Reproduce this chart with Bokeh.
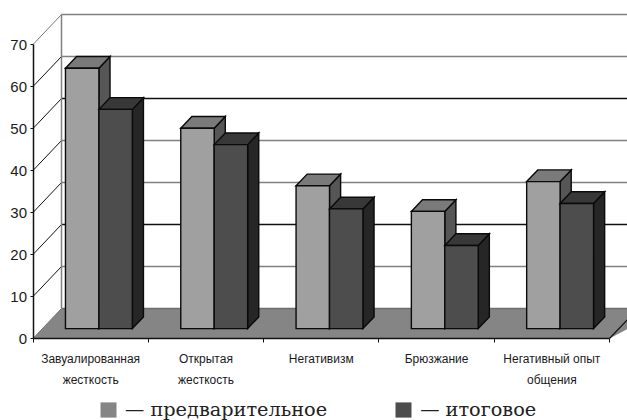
from bokeh.embed import file_html
from bokeh.models import FixedTicker, Legend, LegendItem, LinearAxis, Range1d
from bokeh.plotting import figure
from bokeh.resources import INLINE

categories = ["Завуалированная\nжесткость", "Открытая\nжесткость", "Негативизм",
              "Брюзжание", "Негативный опыт\nобщения"]
preliminary = [62.0, 47.7, 34.0, 27.9, 35.0]
final = [52.2, 43.8, 28.5, 19.8, 29.8]
value_ticks = [0, 10, 20, 30, 40, 50, 60, 70]
series_names = ["— предварительное", "— итоговое"]

# Scale of the front plane, in pixels per data unit
PX_X = 115.3
PX_Y = 4.2
ORIGIN_X = 32.5
ORIGIN_Y = 338.0
WIDTH, HEIGHT = 627, 420

# Oblique projection of the box depth
WALL_DX = 28.5 / PX_X
WALL_DY = 30.0 / PX_Y
BAR_FRONT = 0.33
BAR_BACK = 0.72
BAR_WIDTH = 0.29
BAR_START = 0.20


def pt(x, y, depth=0.0):
    return x + depth * WALL_DX, y + depth * WALL_DY


def poly(*corners):
    pts = [pt(*c) for c in corners]
    return [q[0] for q in pts], [q[1] for q in pts]


x_range = Range1d(-ORIGIN_X / PX_X, (WIDTH - ORIGIN_X) / PX_X)
y_range = Range1d(-(HEIGHT - ORIGIN_Y) / PX_Y, ORIGIN_Y / PX_Y)
p = figure(width=WIDTH, height=HEIGHT, x_range=x_range, y_range=y_range,
           output_backend="svg", toolbar_location=None,
           min_border=0, min_border_left=0, min_border_right=0,
           min_border_top=0, min_border_bottom=0, x_axis_location=None,
           y_axis_location=None, outline_line_color=None)
p.grid.visible = False

n = len(categories)
right = x_range.end + 1

# Floor
fx, fy = poly((0, 0), (n, 0), (n + WALL_DX, 0, 1), (right, 0, 1), (0, 0, 1))
floor = p.patch(fx, fy, fill_color="#858585", line_color=None)

# Back wall lines and side wall diagonals; line darkness alternates
line_colors = {0: "#6e6e6e", 10: "#808080", 20: "#111111", 30: "#808080",
               40: "#808080", 50: "#111111", 60: "#808080", 70: "#808080"}
for v in value_ticks:
    bx, by = pt(0, v, 1)
    p.line([bx, right], [by, by], line_color=line_colors[v], line_width=1.5)
    dx, dy = poly((0, v), (0, v, 1))
    p.line(dx, dy, line_color="#777777" if v in (0, 70) else "#111111", line_width=1)
wx, wy = poly((0, 0, 1), (0, 70, 1))
p.line(wx, wy, line_color="#808080", line_width=1.5)

# Right edge of the floor
ex, ey = poly((n, 0), (n, 0, 1))
p.line(ex, ey, line_color="#111111", line_width=1.2)

# Bars: front, top and side faces of each box
styles = [("#a0a0a0", "#7a7a7a", "#565656"), ("#4d4d4d", "#383838", "#262626")]
swatch_dark = None
for s, values in enumerate([preliminary, final]):
    front, top, side = styles[s]
    for i, v in enumerate(values):
        x0 = i + BAR_START + s * BAR_WIDTH
        x1 = x0 + BAR_WIDTH
        front_xs, front_ys = poly((x0, 0, BAR_FRONT), (x1, 0, BAR_FRONT),
                                  (x1, v, BAR_FRONT), (x0, v, BAR_FRONT))
        if s == 1 and swatch_dark is None:
            # Unoutlined fill used as the legend key of this series
            swatch_dark = p.patch(front_xs, front_ys, fill_color=front, line_color=None)
        for color, corners in [
            (side, ((x1, 0, BAR_FRONT), (x1, 0, BAR_BACK), (x1, v, BAR_BACK), (x1, v, BAR_FRONT))),
            (top, ((x0, v, BAR_FRONT), (x0, v, BAR_BACK), (x1, v, BAR_BACK), (x1, v, BAR_FRONT))),
        ]:
            xs, ys = poly(*corners)
            p.patch(xs, ys, fill_color=color, line_color="#0a0a0a", line_width=1.4,
                    line_join="miter")
        p.patch(front_xs, front_ys, fill_color=front, line_color="#0a0a0a", line_width=1.4,
                line_join="miter")

# Axes sit on the zero lines, inside the full-window frame
FONT = "Liberation Sans"
yaxis = LinearAxis(fixed_location=0, ticker=FixedTicker(ticks=value_ticks),
                   bounds=(0, 70), axis_line_color="#111111", axis_line_width=1.5,
                   major_tick_line_color="#111111", major_tick_out=3, major_tick_in=0,
                   minor_tick_out=0, minor_tick_in=0,
                   major_label_text_font=FONT, major_label_text_font_size="15px",
                   major_label_text_color="#1a1a1a", major_label_standoff=3)
p.add_layout(yaxis, "left")

centers = [i + 0.5 for i in range(n)]
xaxis = LinearAxis(fixed_location=0,
                   ticker=FixedTicker(ticks=centers, minor_ticks=list(range(n + 1))),
                   bounds=(0, n), axis_line_color="#111111", axis_line_width=1.5,
                   major_tick_out=0, major_tick_in=0, minor_tick_out=4, minor_tick_in=0,
                   minor_tick_line_color="#111111",
                   major_label_overrides={c: t for c, t in zip(centers, categories)},
                   major_label_text_font=FONT, major_label_text_font_size="12px",
                   major_label_text_color="#1a1a1a", major_label_standoff=9,
                   major_label_text_line_height=1.5)
p.add_layout(xaxis, "below")

# Legend keyed on the floor fill and the dark bar fill
legend = Legend(items=[LegendItem(label=series_names[0], renderers=[floor]),
                       LegendItem(label=series_names[1], renderers=[swatch_dark])],
                orientation="horizontal", location=(98, -1), spacing=66,
                border_line_color=None, background_fill_alpha=0,
                glyph_width=20, glyph_height=19, label_standoff=7, padding=0, margin=0,
                label_text_font="DejaVu Serif", label_text_font_size="19.3px",
                label_text_color="#222222", label_height=19)
p.add_layout(legend, "center")

open("out.html", "w").write(file_html(p, INLINE))
